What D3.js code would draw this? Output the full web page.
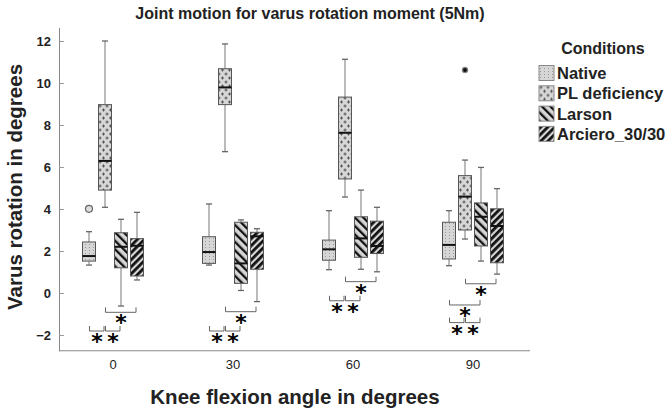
<!DOCTYPE html>
<html>
<head>
<meta charset="utf-8">
<script src="https://cdn.jsdelivr.net/npm/d3@7"></script>
<style>
  body { margin: 0; background: #fff; }
  text { font-family: "Liberation Sans", Arial, sans-serif; }
</style>
</head>
<body>
<div id="chart"></div>
<script>
// categories
var angles = ["0", "30", "60", "90"];
var conditions = ["Native", "PL deficiency", "Larson", "Arciero_30/30"];
var yTicks = [-2, 0, 2, 4, 6, 8, 10, 12];

// box summaries per angle: [min, q1, median, q3, max]
var nativeVals  = [[1.33, 1.52, 1.76, 2.43, 2.92], [1.33, 1.41, 1.95, 2.68, 4.24], [1.11, 1.56, 2.08, 2.52, 3.92], [1.30, 1.62, 2.29, 3.37, 3.92]];
var plVals      = [[4.08, 4.90, 6.29, 8.97, 12.0], [6.73, 8.97, 9.79, 10.68, 11.86], [4.57, 5.43, 7.63, 9.33, 11.13], [2.57, 3.00, 4.59, 5.59, 6.33]];
var larsonVals  = [[-0.62, 1.20, 2.20, 2.87, 3.51], [0.12, 0.46, 1.41, 3.37, 3.48], [1.13, 1.70, 2.60, 3.63, 4.90], [1.52, 2.24, 3.63, 4.29, 5.98]];
var arcieroVals = [[0.62, 0.81, 2.25, 2.59, 3.84], [-0.41, 1.13, 2.70, 2.89, 3.06], [1.01, 1.88, 2.24, 3.42, 4.08], [0.90, 1.44, 3.19, 4.01, 4.97]];

var outliers = [
  { angle: "0", cond: "Native", value: 4.01, extreme: false },
  { angle: "90", cond: "PL deficiency", value: 10.62, extreme: true }
];

// significance brackets (level in degrees)
var brackets = [
  { angle: "0", from: "Native", to: "PL deficiency", level: -1.81 },
  { angle: "0", from: "PL deficiency", to: "Larson", level: -1.81 },
  { angle: "0", from: "PL deficiency", to: "Arciero_30/30", level: -0.92 },
  { angle: "30", from: "Native", to: "PL deficiency", level: -1.81 },
  { angle: "30", from: "PL deficiency", to: "Larson", level: -1.81 },
  { angle: "30", from: "PL deficiency", to: "Arciero_30/30", level: -0.89 },
  { angle: "60", from: "Native", to: "PL deficiency", level: -0.37 },
  { angle: "60", from: "PL deficiency", to: "Larson", level: -0.37 },
  { angle: "60", from: "PL deficiency", to: "Arciero_30/30", level: 0.54 },
  { angle: "90", from: "Native", to: "PL deficiency", level: -1.41 },
  { angle: "90", from: "PL deficiency", to: "Larson", level: -1.41 },
  { angle: "90", from: "Native", to: "Larson", level: -0.57 },
  { angle: "90", from: "PL deficiency", to: "Arciero_30/30", level: 0.44 }
];

var seriesVals = [nativeVals, plVals, larsonVals, arcieroVals];
var patternIds = ["p-native", "p-pl", "p-larson", "p-arciero"];

var svgWidth = 670;
var svgHeight = 413;
var plotLeft = 59;
var plotRight = 530;

var svg = d3.select("#chart")
  .append("svg")
  .attr("width", svgWidth)
  .attr("height", svgHeight);

// patterns
var defs = svg.append("defs");

var pNative = defs.append("pattern").attr("id", "p-native")
  .attr("patternUnits", "userSpaceOnUse").attr("width", 4).attr("height", 3);
pNative.append("rect").attr("width", 4).attr("height", 3).attr("fill", "#d6d6d6");
pNative.append("rect").attr("x", 1).attr("y", 1).attr("width", 1).attr("height", 1).attr("fill", "#9a9a9a");

var pPl = defs.append("pattern").attr("id", "p-pl")
  .attr("patternUnits", "userSpaceOnUse").attr("width", 7).attr("height", 8);
pPl.append("rect").attr("width", 7).attr("height", 8).attr("fill", "#d6d6d6");
pPl.append("path").attr("d", "M0.5,2H3.5M2,0.5V3.5M4,6H7M5.5,4.5V7.5")
  .attr("stroke", "#555").attr("stroke-width", 1);

var pLarson = defs.append("pattern").attr("id", "p-larson")
  .attr("patternUnits", "userSpaceOnUse").attr("width", 6).attr("height", 6)
  .attr("patternTransform", "rotate(-45)");
pLarson.append("rect").attr("width", 6).attr("height", 6).attr("fill", "#d6d6d6");
pLarson.append("rect").attr("width", 2.3).attr("height", 6).attr("fill", "#111");

var pArciero = defs.append("pattern").attr("id", "p-arciero")
  .attr("patternUnits", "userSpaceOnUse").attr("width", 5).attr("height", 5)
  .attr("patternTransform", "rotate(45)");
pArciero.append("rect").attr("width", 5).attr("height", 5).attr("fill", "#d6d6d6");
pArciero.append("rect").attr("width", 2.8).attr("height", 5).attr("fill", "#111");

// scales
var x = d3.scaleBand().domain(angles).range([53, 533]);
var xInner = d3.scaleBand().domain(conditions).range([-32, 32]);
var y = d3.scaleLinear().domain([-2.75, 12.65]).range([350.75, 27.35]);

var boxW = 13;
function cx(angle, cond) {
  return x(angle) + x.bandwidth() / 2 + xInner(cond) + xInner.bandwidth() / 2;
}

// axes
var yAxis = svg.append("g")
  .attr("transform", `translate(${plotLeft},0)`)
  .call(d3.axisLeft(y).tickValues(yTicks).tickSizeInner(-5).tickSizeOuter(0).tickPadding(8));
yAxis.select(".domain").attr("stroke", "#888");
yAxis.selectAll(".tick line").attr("stroke", "#999");
yAxis.selectAll(".tick text")
  .style("font-family", "Liberation Sans, Arial, sans-serif")
  .style("font-size", "13px").style("font-weight", "bold").attr("fill", "#222");

var xAxis = svg.append("g")
  .attr("transform", `translate(0,${y.range()[0]})`)
  .call(d3.axisBottom(x).tickSize(0).tickPadding(9));
xAxis.select(".domain").remove();
xAxis.selectAll(".tick text")
  .style("font-family", "Liberation Sans, Arial, sans-serif")
  .style("font-size", "13px").attr("fill", "#222");
svg.append("line")
  .attr("x1", plotLeft).attr("x2", plotRight)
  .attr("y1", y.range()[0]).attr("y2", y.range()[0])
  .attr("stroke", "#888");

// boxes
var boxData = [];
conditions.forEach(function(cond, ci) {
  angles.forEach(function(angle, ai) {
    var v = seriesVals[ci][ai];
    boxData.push({ angle: angle, cond: cond, ci: ci, min: v[0], q1: v[1], med: v[2], q3: v[3], max: v[4] });
  });
});

var boxes = svg.append("g").selectAll("g")
  .data(boxData)
  .enter()
  .append("g");

boxes.append("line")
  .attr("x1", d => cx(d.angle, d.cond)).attr("x2", d => cx(d.angle, d.cond))
  .attr("y1", d => y(d.max)).attr("y2", d => y(d.q3))
  .attr("stroke", "#777");
boxes.append("line")
  .attr("x1", d => cx(d.angle, d.cond)).attr("x2", d => cx(d.angle, d.cond))
  .attr("y1", d => y(d.q1)).attr("y2", d => y(d.min))
  .attr("stroke", "#777");
boxes.append("line")
  .attr("x1", d => cx(d.angle, d.cond) - 3).attr("x2", d => cx(d.angle, d.cond) + 3)
  .attr("y1", d => y(d.max)).attr("y2", d => y(d.max))
  .attr("stroke", "#666").attr("stroke-width", 1.3);
boxes.append("line")
  .attr("x1", d => cx(d.angle, d.cond) - 3).attr("x2", d => cx(d.angle, d.cond) + 3)
  .attr("y1", d => y(d.min)).attr("y2", d => y(d.min))
  .attr("stroke", "#666").attr("stroke-width", 1.3);
boxes.append("rect")
  .attr("x", d => cx(d.angle, d.cond) - boxW / 2)
  .attr("width", boxW)
  .attr("y", d => y(d.q3))
  .attr("height", d => y(d.q1) - y(d.q3))
  .attr("fill", d => `url(#${patternIds[d.ci]})`)
  .attr("stroke", "#555");
boxes.append("line")
  .attr("x1", d => cx(d.angle, d.cond) - boxW / 2).attr("x2", d => cx(d.angle, d.cond) + boxW / 2)
  .attr("y1", d => y(d.med)).attr("y2", d => y(d.med))
  .attr("stroke", "#111").attr("stroke-width", 2);

// outliers
svg.append("g").selectAll("circle")
  .data(outliers)
  .enter()
  .append("circle")
  .attr("cx", d => cx(d.angle, d.cond))
  .attr("cy", d => y(d.value))
  .attr("r", d => d.extreme ? 2.6 : 3.5)
  .attr("fill", d => d.extreme ? "#111" : "#ddd")
  .attr("stroke", d => d.extreme ? "#888" : "#666")
  .attr("stroke-width", 1.2);

// significance brackets
var br = svg.append("g").selectAll("g")
  .data(brackets)
  .enter()
  .append("g");
br.append("path")
  .attr("d", function(d) {
    var x1 = cx(d.angle, d.from) + 0.5, x2 = cx(d.angle, d.to) - 1, yy = y(d.level);
    return `M${x1},${yy - 5}V${yy}H${x2}V${yy - 5}`;
  })
  .attr("fill", "none").attr("stroke", "#666");
br.append("text")
  .attr("x", d => (cx(d.angle, d.from) + cx(d.angle, d.to)) / 2)
  .attr("y", d => y(d.level) + 18)
  .attr("text-anchor", "middle")
  .style("font-family", "DejaVu Sans, sans-serif")
  .style("font-size", "22px").style("font-weight", "bold")
  .attr("fill", "#000")
  .text("*");

// titles
svg.append("text")
  .attr("x", 310).attr("y", 19)
  .attr("text-anchor", "middle")
  .style("font-size", "16px").style("font-weight", "bold")
  .attr("fill", "#222")
  .text("Joint motion for varus rotation moment (5Nm)");

svg.append("text")
  .attr("transform", "rotate(-90)")
  .attr("x", -187).attr("y", 22)
  .attr("text-anchor", "middle")
  .style("font-size", "20.5px").style("font-weight", "bold")
  .attr("fill", "#222")
  .text("Varus rotation in degrees");

svg.append("text")
  .attr("x", 295).attr("y", 404)
  .attr("text-anchor", "middle")
  .style("font-size", "20.5px").style("font-weight", "bold")
  .attr("fill", "#222")
  .text("Knee flexion angle in degrees");

// legend
var legend = svg.append("g").attr("transform", "translate(539,0)");
legend.append("text")
  .attr("x", 64).attr("y", 54)
  .attr("text-anchor", "middle")
  .style("font-size", "16px").style("font-weight", "bold")
  .attr("fill", "#222")
  .text("Conditions");
var items = legend.selectAll(".item")
  .data(conditions)
  .enter()
  .append("g")
  .attr("class", "item")
  .attr("transform", (d, i) => `translate(0,${73 + i * 20.3})`);
items.append("rect")
  .attr("x", 0).attr("y", -7.5).attr("width", 15).attr("height", 15)
  .attr("fill", (d, i) => `url(#${patternIds[i]})`)
  .attr("stroke", "#888");
items.append("text")
  .attr("x", 18).attr("y", 6)
  .style("font-size", "16.5px").style("font-weight", "bold")
  .attr("fill", "#222")
  .text(d => d);
</script>
</body>
</html>
